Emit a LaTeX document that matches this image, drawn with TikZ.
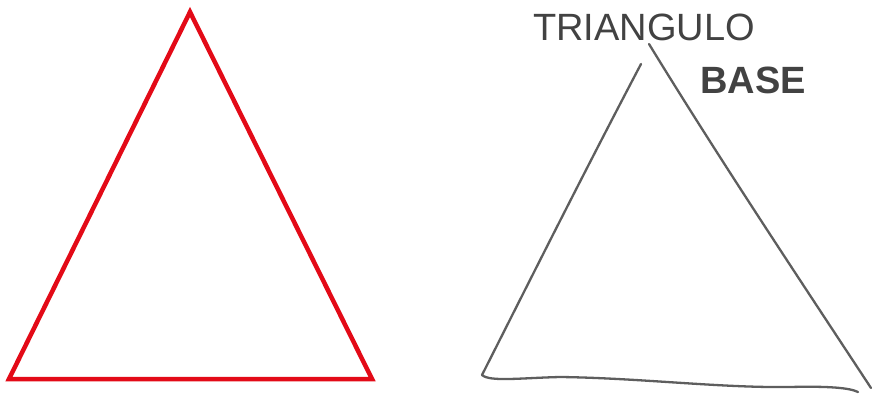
\documentclass[tikz,border=0pt]{standalone}
\usepackage{fontspec}
\setsansfont{Liberation Sans}
\usetikzlibrary{positioning}
\definecolor{trired}{HTML}{E30A17}
\definecolor{pencil}{HTML}{5E5E5E}

\begin{document}
\begin{tikzpicture}[
  x=1pt, y=-1pt,
  redline/.style={draw=trired, line width=4.5pt, line join=miter},
  sketch/.style={draw=pencil, line width=2.3pt, line cap=round, line join=round},
  handtext/.style={text=pencil!70!black, font=\sffamily\fontsize{38}{38}\selectfont, inner sep=0pt}
]
\useasboundingbox (0,0) rectangle (875,396);

% Red triangle
\coordinate (apex) at (190,12);
\coordinate (bl) at (9,379);
\coordinate (br) at (372,379);
\draw[redline] (apex) -- (br) -- (bl) -- cycle;

% Pencil sketch
\coordinate (sl) at (641,64);
\coordinate (sr) at (649,44);
\coordinate (bl2) at (482,375);
\coordinate (br2) at (871,388);
\draw[sketch] (sl) .. controls (580,180) and (520,300) .. (bl2);
\draw[sketch] (sr) .. controls (720,160) and (800,280) .. (br2);
\draw[sketch] (bl2) .. controls (490,382) and (520,378) .. (560,377)
  .. controls (640,378) and (720,388) .. (790,387)
  .. controls (830,386) and (850,388) .. (858,392);

% Labels
\node[handtext, anchor=west] (title) at (533,27) {TRIANGULO};
\node[handtext, anchor=west, font=\sffamily\bfseries\fontsize{38}{38}\selectfont] (base) at (700,80) {BASE};

\end{tikzpicture}
\end{document}
